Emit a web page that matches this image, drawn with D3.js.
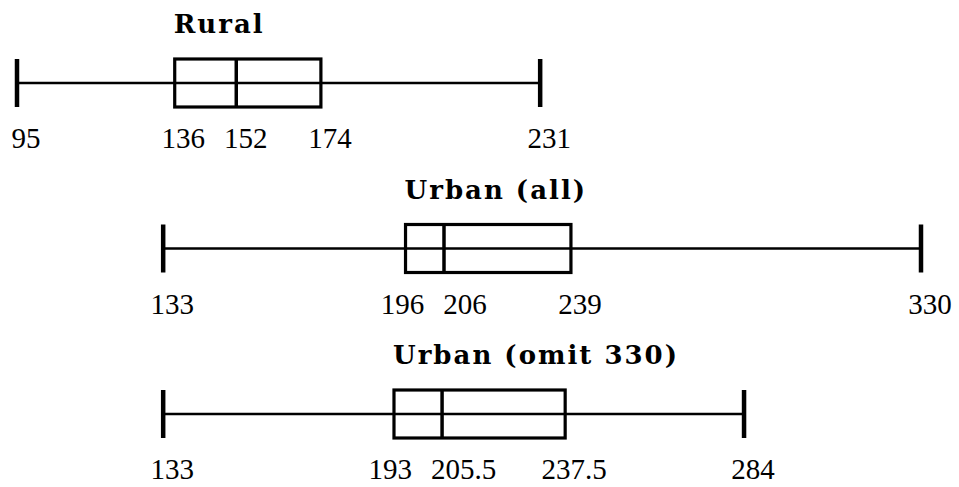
<!DOCTYPE html>
<html>
<head>
<meta charset="utf-8">
<script src="https://cdnjs.cloudflare.com/ajax/libs/d3/7.8.5/d3.min.js"></script>
<style>
  body { margin: 0; background: #fff; }
  svg { display: block; }
  .lbl { font-family: "Liberation Serif", "Times New Roman", serif; font-size: 29px; fill: #000; }
  .ttl { font-family: "DejaVu Serif", serif; font-weight: bold; font-size: 26px; fill: #000; letter-spacing: 2px; }
</style>
</head>
<body>
<div id="chart"></div>
<script>
// five number summaries, one entry per group
var groups   = ["Rural", "Urban (all)", "Urban (omit 330)"];
var min_vals = [95, 133, 133];
var q1_vals  = [136, 196, 193];
var med_vals = [152, 206, 205.5];
var q3_vals  = [174, 239, 237.5];
var max_vals = [231, 330, 284];

var width = 959, height = 487;

var rows = groups.map(function(g, i) {
  return {
    name: g,
    min: min_vals[i],
    q1: q1_vals[i],
    med: med_vals[i],
    q3: q3_vals[i],
    max: max_vals[i]
  };
});

var x = d3.scaleLinear()
  .domain([d3.min(min_vals), d3.max(max_vals)])
  .range([17, 921]);

var y = d3.scalePoint()
  .domain(groups)
  .range([83, 414]);

var half = 24;      // half height of box and caps
var label_dx = 9;   // labels sit a bit right of their mark
var label_gap = 19; // min space between neighbouring labels

var svg = d3.select("#chart").append("svg")
  .attr("width", width)
  .attr("height", height);

var g = svg.selectAll("g.row")
  .data(rows)
  .enter().append("g")
  .attr("class", "row")
  .attr("transform", function(d) { return "translate(0," + y(d.name) + ")"; });

// whisker line
g.append("line")
  .attr("x1", function(d) { return x(d.min); })
  .attr("x2", function(d) { return x(d.max); })
  .attr("y1", 0).attr("y2", 0)
  .attr("stroke", "#000")
  .attr("stroke-width", 2.5);

// box
g.append("rect")
  .attr("x", function(d) { return x(d.q1); })
  .attr("width", function(d) { return x(d.q3) - x(d.q1); })
  .attr("y", -half)
  .attr("height", half * 2)
  .attr("fill", "none")
  .attr("stroke", "#000")
  .attr("stroke-width", 3.2);

// median
g.append("line")
  .attr("x1", function(d) { return x(d.med); })
  .attr("x2", function(d) { return x(d.med); })
  .attr("y1", -half).attr("y2", half)
  .attr("stroke", "#000")
  .attr("stroke-width", 3.5);

// end caps
g.selectAll("line.cap")
  .data(function(d) { return [d.min, d.max]; })
  .enter().append("line")
  .attr("class", "cap")
  .attr("x1", function(v) { return x(v); })
  .attr("x2", function(v) { return x(v); })
  .attr("y1", -half).attr("y2", half)
  .attr("stroke", "#000")
  .attr("stroke-width", 4.5);

// titles, left aligned to the box
g.append("text")
  .attr("class", "ttl")
  .attr("x", function(d) { return x(d.q1) - 1; })
  .attr("y", -50)
  .text(function(d) { return d.name; });

// number labels
g.each(function(d) {
  var vals = [d.min, d.q1, d.med, d.q3, d.max];
  var texts = d3.select(this).selectAll("text.lbl")
    .data(vals)
    .enter().append("text")
    .attr("class", "lbl")
    .attr("text-anchor", "middle")
    .attr("y", 65)
    .text(function(v) { return String(v); });

  var nodes = texts.nodes();
  var cx = vals.map(function(v) { return x(v) + label_dx; });
  var w = nodes.map(function(n) { return n.getComputedTextLength(); });

  // push overlapping neighbours apart
  for (var k = 0; k < 5; k++) {
    for (var i = 0; i < cx.length - 1; i++) {
      var need = (w[i] + w[i + 1]) / 2 + label_gap;
      var have = cx[i + 1] - cx[i];
      if (have < need) {
        var s = (need - have) / 2;
        cx[i] -= s;
        cx[i + 1] += s;
      }
    }
  }
  texts.attr("x", function(v, i) { return cx[i]; });
});
</script>
</body>
</html>
